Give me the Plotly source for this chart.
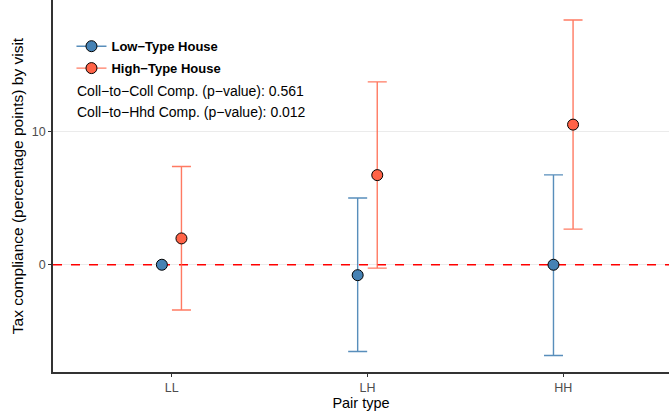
import plotly.graph_objects as go

categories = ["LL", "LH", "HH"]
low_est = [0.0, -0.78, 0.0]
low_upper = [None, 5.0, 6.73]
low_lower = [None, -6.5, -6.8]
high_est = [1.97, 6.71, 10.49]
high_upper = [7.35, 13.69, 18.32]
high_lower = [-3.39, -0.25, 2.67]
annot_lines = ["Coll\u2212to\u2212Coll Comp. (p\u2212value): 0.561",
               "Coll\u2212to\u2212Hhd Comp. (p\u2212value): 0.012"]

blue = "#4682B4"
red = "#FF6347"
blue_err = "rgba(70,130,180,0.9)"
red_err = "rgba(255,99,71,0.85)"
dodge = 0.05
pos = [1, 2, 3]
x_range = [0.394, 3.54]

fig = go.Figure()

def add_series(est, up, lo, xoff, fill, errc, name, grp):
    xs = [p + xoff for p in pos]
    plus = [(u - e) if u is not None else "NaN" for u, e in zip(up, est)]
    minus = [(e - l) if l is not None else "NaN" for l, e in zip(lo, est)]
    fig.add_trace(go.Scatter(
        x=xs, y=est, mode="markers", showlegend=False,
        marker=dict(size=11, color=fill, line=dict(color="black", width=1)),
        error_y=dict(type="data", symmetric=False, array=plus, arrayminus=minus,
                     color=errc, thickness=1.4, width=9.5, visible=True),
    ))
    fig.add_trace(go.Scatter(
        x=[None], y=[None], mode="lines+markers", name=name, legendgroup=grp,
        line=dict(color=errc, width=1.4),
        marker=dict(size=11, color=fill, line=dict(color="black", width=1)),
    ))

# zero reference line (drawn before the points so markers sit on top)
fig.add_trace(go.Scatter(
    x=x_range, y=[0, 0], mode="lines", showlegend=False, hoverinfo="skip",
    line=dict(color="#ff0000", width=1.3, dash="dash"),
))

add_series(low_est, low_upper, low_lower, -dodge, blue, blue_err, "Low\u2212Type House", "a")
add_series(high_est, high_upper, high_lower, dodge, red, red_err, "High\u2212Type House", "b")

for i, t in enumerate(annot_lines):
    fig.add_annotation(text=t, xref="paper", yref="paper", x=0.036, y=0.755 - i * 0.057,
                       xanchor="left", yanchor="middle", showarrow=False,
                       font=dict(family="Liberation Sans, Arial", size=14, color="black"))

fig.update_layout(
    width=669, height=413,
    margin=dict(l=53, r=0, t=0, b=41),
    plot_bgcolor="white", paper_bgcolor="white",
    font=dict(family="Liberation Sans, Arial", color="black"),
    legend=dict(x=0.03, y=0.916, xanchor="left", yanchor="top",
                bgcolor="rgba(0,0,0,0)", tracegroupgap=2,
                font=dict(size=13, family="Liberation Sans, Arial", weight="bold"),
                itemwidth=30),
    xaxis=dict(range=x_range, tickvals=pos, ticktext=categories,
               automargin=False,
               showgrid=False, zeroline=False, showline=True, linecolor="#333333",
               linewidth=1.5, ticks="outside", ticklen=3, tickcolor="#333333",
               tickfont=dict(size=12.5, color="#4d4d4d"),
               title=dict(text="Pair type", font=dict(size=14.5), standoff=2)),
    yaxis=dict(range=[-8.03, 19.82], tickvals=[0, 10], ticktext=["0", "10"],
               automargin=False,
               showgrid=True, gridcolor="#ebebeb", gridwidth=1, zeroline=False,
               showline=True, linecolor="#333333", linewidth=1.5,
               ticks="outside", ticklen=3, tickcolor="#333333",
               tickfont=dict(size=12.5, color="#4d4d4d"),
               title=dict(text="Tax compliance (percentage points) by visit",
                          font=dict(size=15.5), standoff=4)),
)

fig.write_html("out.html", config={"displayModeBar": False},
               post_script="document.body.style.margin='0';document.body.style.overflow='hidden';")
